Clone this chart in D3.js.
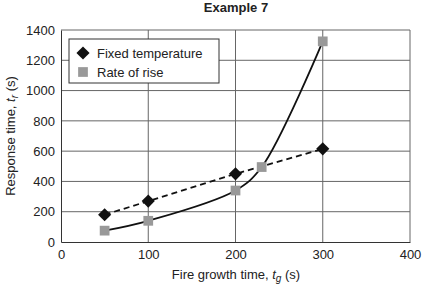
<!DOCTYPE html>
<html lang="en">
<head>
<meta charset="UTF-8" />
<title>Example 7</title>
<style>
  body { margin: 0; background: #fff; }
  svg text { font-family: "Liberation Sans", Arial, sans-serif; fill: #222; }
</style>
</head>
<body>
<div class="chart"></div>
<script src="https://d3js.org/d3.v7.min.js"></script>
<script>
// data
const fixedX = [50, 100, 200, 300]
const fixedY = [180, 270, 450, 615]
const riseX = [50, 100, 200, 230, 300]
const riseY = [75, 140, 340, 495, 1325]
const xTicks = [0, 100, 200, 300, 400]
const yTicks = [0, 200, 400, 600, 800, 1000, 1200, 1400]

const width = 422
const height = 287
const margin = { left: 61, right: 12, top: 30, bottom: 45 }

const svg = d3.select('.chart')
  .append('svg')
  .attr('width', width)
  .attr('height', height)

const x = d3.scaleLinear().domain([0, 400]).range([margin.left, width - margin.right])
const y = d3.scaleLinear().domain([0, 1400]).range([height - margin.bottom, margin.top])

// grid
svg.append('g').selectAll('line')
  .data(xTicks.slice(1))
  .join('line')
  .attr('x1', d => x(d)).attr('x2', d => x(d))
  .attr('y1', y(0)).attr('y2', y(1400))
  .attr('stroke', '#666').attr('stroke-width', 1)

svg.append('g').selectAll('line')
  .data(yTicks.slice(1))
  .join('line')
  .attr('x1', x(0)).attr('x2', x(400))
  .attr('y1', d => y(d)).attr('y2', d => y(d))
  .attr('stroke', '#666').attr('stroke-width', 1)

// axes
const xAxis = d3.axisBottom(x).tickValues(xTicks).tickFormat(d3.format('d')).tickSize(0).tickPadding(8)
svg.append('g')
  .attr('transform', `translate(0,${y(0)})`)
  .call(xAxis)
  .call(g => g.select('.domain').attr('stroke', '#333'))
  .selectAll('text').style('font-size', '13px').attr('fill', '#222')

const yAxis = d3.axisLeft(y).tickValues(yTicks).tickFormat(d3.format('d')).tickSize(0).tickPadding(6)
svg.append('g')
  .attr('transform', `translate(${x(0)},0)`)
  .call(yAxis)
  .call(g => g.select('.domain').attr('stroke', '#333'))
  .selectAll('text').style('font-size', '13px').attr('fill', '#222')

// lines
const fixed = fixedX.map((d, i) => [d, fixedY[i]])
const rise = riseX.map((d, i) => [d, riseY[i]])

svg.append('path')
  .datum(fixed)
  .attr('d', d3.line().x(d => x(d[0])).y(d => y(d[1])))
  .attr('fill', 'none').attr('stroke', '#111').attr('stroke-width', 1.8)
  .attr('stroke-dasharray', '6,4')

svg.append('path')
  .datum(rise)
  .attr('d', d3.line().x(d => x(d[0])).y(d => y(d[1])).curve(d3.curveCatmullRom.alpha(0.5)))
  .attr('fill', 'none').attr('stroke', '#111').attr('stroke-width', 1.8)

// markers
const diamond = d3.symbol().type(d3.symbolDiamond2).size(110)
const square = d3.symbol().type(d3.symbolSquare).size(95)

svg.append('g').selectAll('path')
  .data(rise)
  .join('path')
  .attr('d', square)
  .attr('transform', d => `translate(${x(d[0])},${y(d[1])})`)
  .attr('fill', '#999')

svg.append('g').selectAll('path')
  .data(fixed)
  .join('path')
  .attr('d', diamond)
  .attr('transform', d => `translate(${x(d[0])},${y(d[1])})`)
  .attr('fill', '#111')

// legend
const lg = svg.append('g').attr('transform', 'translate(69,39)')
lg.append('rect').attr('width', 150).attr('height', 44)
  .attr('fill', '#fff').attr('stroke', '#333').attr('stroke-width', 1)
lg.append('path').attr('d', diamond).attr('transform', 'translate(14,14)').attr('fill', '#111')
lg.append('path').attr('d', square).attr('transform', 'translate(14,33)').attr('fill', '#999')
lg.append('text').attr('x', 28).attr('y', 18.5).style('font-size', '13px').text('Fixed temperature')
lg.append('text').attr('x', 28).attr('y', 37.5).style('font-size', '13px').text('Rate of rise')

// title and axis labels
svg.append('text')
  .attr('x', 236).attr('y', 12)
  .attr('text-anchor', 'middle')
  .style('font-size', '13px').style('font-weight', 'bold')
  .text('Example 7')

const xl = svg.append('text')
  .attr('x', 236).attr('y', 279)
  .attr('text-anchor', 'middle')
  .style('font-size', '13px')
xl.append('tspan').text('Fire growth time, ')
xl.append('tspan').style('font-style', 'italic').text('t')
xl.append('tspan').style('font-style', 'italic').style('font-size', '10px').attr('dy', 3).text('g')
xl.append('tspan').attr('dy', -3).text(' (s)')

const yl = svg.append('text')
  .attr('transform', `translate(15,${(y(0) + y(1400)) / 2}) rotate(-90)`)
  .attr('text-anchor', 'middle')
  .style('font-size', '13px')
yl.append('tspan').text('Response time, ')
yl.append('tspan').style('font-style', 'italic').text('t')
yl.append('tspan').style('font-style', 'italic').style('font-size', '10px').attr('dy', 3).text('r')
yl.append('tspan').attr('dy', -3).text(' (s)')
</script>
</body>
</html>
